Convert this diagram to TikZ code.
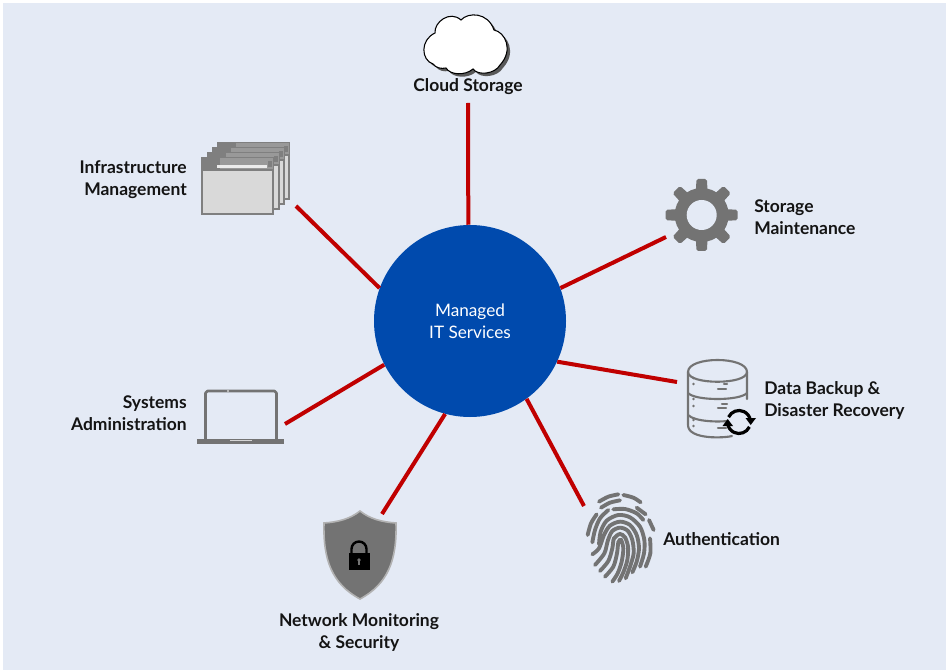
\documentclass[tikz,border=0pt]{standalone}
\usepackage{fontspec}
\setmainfont{Lato}
\definecolor{bgblue}{HTML}{E4EAF5}
\definecolor{hubblue}{HTML}{004AAD}
\definecolor{linkred}{HTML}{C00000}
\definecolor{icongray}{HTML}{737373}
\definecolor{winfill}{HTML}{D9D9D9}
\definecolor{winhead}{HTML}{999999}
\definecolor{wintab}{HTML}{7F7F7F}
\tikzset{
  lab/.style={font=\fontsize{13.1pt}{16.5pt}\selectfont\bfseries,align=#1,inner sep=0pt,text=black!92},
  lab/.default=center,
  link/.style={draw=linkred,line width=3pt},
  hubnode/.style={circle,fill=hubblue,minimum size=144pt,inner sep=0pt,text=white,align=center,font=\fontsize{12.9pt}{16.5pt}\selectfont},
  gline/.style={draw=icongray,line cap=round,line join=round},
  finger/.style={draw=icongray,line width=2.9pt,line cap=round},
  win/.pic={
    \fill[winfill] (0,0) rectangle (71,56);
    \draw[wintab,line width=1.3pt] (0,0) rectangle (71,56);
    \fill[winhead] (0,0) rectangle (71,13);
    \fill[wintab] (0,0) rectangle (18,13);
    \fill[wintab] (0,11) rectangle (71,13.5);
    \fill[white!92!black] (15,7) rectangle (65,10);
    \fill[wintab] (66,3) rectangle (70,9);
  },
  gtooth/.pic={
    \fill[icongray,rounded corners=1.3pt] (-8,16) -- (-5.2,-36) -- (5.2,-36) -- (8,16) -- cycle;
  }
}
\begin{document}
\begin{tikzpicture}[x=0.75pt,y=-0.75pt]
\useasboundingbox (0,0) rectangle (946,670);
\fill[white] (0,0) rectangle (946,670);
\fill[bgblue] (3,3) rectangle (946,670);

% free ends
\coordinate (eCloud) at (468,103);
\coordinate (eInfra) at (296,206);
\coordinate (eGear) at (666,237);
\coordinate (eBackup) at (677,382);
\coordinate (eAuth) at (584,506);
\coordinate (eNet) at (382,514);
\coordinate (eSys) at (285,424);

\node[hubnode] (hub) at (470,321) {\raisebox{-1.5pt}{Managed}\\\raisebox{-1.5pt}{IT Services}};

\draw[link] (hub.91) -- (eCloud);
\draw[link] (hub.160) -- (eInfra);
\draw[link] (hub.20) -- (eGear);
\draw[link] (hub.-25) -- (eBackup);
\draw[link] (hub.-54) -- (eAuth);
\draw[link] (hub.-105) -- (eNet);
\draw[link] (hub.207) -- (eSys);

% cloud
\def\cloudpath{(433,64) .. controls (421,60) and (420,40) .. (435,33)
  .. controls (434,22) and (450,10) .. (461,20)
  .. controls (468,12) and (488,12) .. (494,30)
  .. controls (505,32) and (514,50) .. (500,65)
  .. controls (495,74) and (478,76) .. (473,69)
  .. controls (465,76) and (450,75) .. (446,68)
  .. controls (441,69) and (436,68) .. (433,64) -- cycle}
\fill[black!65,xshift=2.2pt,yshift=-2.2pt] \cloudpath;
\fill[white,draw=black,line width=0.8pt] \cloudpath;
\node[lab] (lCloud) at (468,87) {Cloud Storage};

% windows
\pic at (218,143) {win};
\pic at (213,148) {win};
\pic at (208,153) {win};
\pic at (202,158) {win};
\node[lab=right,anchor=east] (lInfra) at (187,180) {Infrastructure\\Management};

% gear
\begin{scope}[shift={(701.7,215)}]
  \foreach \a in {0,45,...,315}{\pic[rotate=\a] {gtooth};}
  \fill[icongray] (0,0) circle[radius=27];
  \fill[bgblue] (0,0) circle[radius=15];
\end{scope}
\node[lab=left,anchor=west] (lGear) at (754,217) {Storage\\Maintenance};

% database
\begin{scope}[gline,line width=1.6pt]
  \draw (688,372) .. controls (688,356) and (747,356) .. (747,372) -- (747,399);
  \draw (688,372) .. controls (688,385) and (747,385) .. (747,372);
  \draw (688,372) -- (688,425) .. controls (688,440) and (725,438) .. (732,436);
  \draw (688,393) .. controls (695,401) and (740,401) .. (747,393);
  \draw (688,415) .. controls (695,422) and (720,422) .. (727,421);
\end{scope}
\foreach \ya in {378,384,399,406,420,426}{\fill[icongray] (693.5,\ya) circle[radius=1.4];}
\draw[gline,line width=1.6pt] (718,389) -- (726,389) (724,384) -- (727,384);
\draw[gline,line width=1.6pt] (718,408) -- (726,408) (722,404) -- (727,404);
\draw[gline,line width=1.6pt] (718,428) -- (726,428);
\draw[black,line width=2.4pt] (739,422) ++(205:11.5) arc[start angle=205,end angle=350,radius=11.5];
\draw[black,line width=2.4pt] (739,422) ++(25:11.5) arc[start angle=25,end angle=170,radius=11.5];
\fill[black] (745.5,418) -- (756,418) -- (750.7,425) -- cycle;
\fill[black] (722.5,426) -- (733,426) -- (727.7,419) -- cycle;
\node[lab=left,anchor=west] (lBackup) at (764,400) {Data Backup \&\\Disaster Recovery};

% laptop
\draw[gline,line width=1.9pt] (205.5,439) -- (205.5,393) -- ++(2,-2) -- (274.5,391) -- ++(2,2) -- (276.5,439);
\fill[icongray] (197,439) rectangle (284,443.5);
\fill[white!70!icongray] (230,439.5) rectangle (252,440.8);
\fill[white] (228,391) circle[radius=.8];
\node[lab=right,anchor=east] (lSys) at (187,413) {Systems\\Administration};

% shield
\fill[icongray,draw=black!30,line width=1.2pt] (360,511)
  .. controls (350,519) and (338,522) .. (324,523)
  .. controls (323,560) and (332,584) .. (360,599)
  .. controls (388,584) and (397,560) .. (396,523)
  .. controls (382,522) and (370,519) .. (360,511) -- cycle;
\fill[black] (348.5,553) rectangle (369.5,569.5);
\draw[black,line width=1.8pt] (351.5,553) -- (351.5,549) arc[start angle=180,end angle=360,radius=7.5] -- (366.5,553);
\fill[icongray] (359,560) circle[radius=1.9];
\fill[icongray] (358.3,560) rectangle (359.7,565);
\node[lab] (lNet) at (359,632) {Network Monitoring\\\& Security};

% fingerprint
\begin{scope}[shift={(575,485)},x=0.25pt,y=-0.25pt,finger]
  \draw plot[smooth] coordinates {(72,50)(100,35)(130,28)};
  \draw plot[smooth] coordinates {(145,30)(175,38)(197,52)};
  \draw plot[smooth] coordinates {(78,68)(105,53)(135,46)};
  \draw plot[smooth] coordinates {(185,68)(212,88)};
  \draw plot[smooth] coordinates {(65,88)(48,115)(38,150)};
  \draw plot[smooth] coordinates {(115,73)(150,72)(185,85)(205,105)};
  \draw plot[smooth] coordinates {(100,75)(75,100)(60,135)(52,172)};
  \draw plot[smooth] coordinates {(222,105)(236,135)};
  \draw plot[smooth] coordinates {(72,178)(77,140)(95,107)(130,90)(165,97)(195,125)(208,165)(207,205)(195,245)};
  \draw plot[smooth] coordinates {(52,208)(72,190)(87,150)(105,122)(135,110)(165,120)(185,150)(192,190)(185,230)(172,262)};
  \draw plot[smooth] coordinates {(60,240)(88,205)(99,165)(112,138)(135,128)(158,137)(172,165)(176,205)(165,245)(152,280)};
  \draw plot[smooth] coordinates {(75,258)(100,228)(112,190)(117,160)(135,147)(150,157)(159,185)(157,225)(145,262)(132,288)};
  \draw plot[smooth] coordinates {(90,275)(115,245)(126,205)(130,172)(138,165)(145,190)(140,230)(128,265)(112,290)};
  \draw plot[smooth] coordinates {(225,160)(226,205)(212,245)};
\end{scope}
\node[lab=left,anchor=west] (lAuth) at (663,539) {Authentication};
\end{tikzpicture}
\end{document}
